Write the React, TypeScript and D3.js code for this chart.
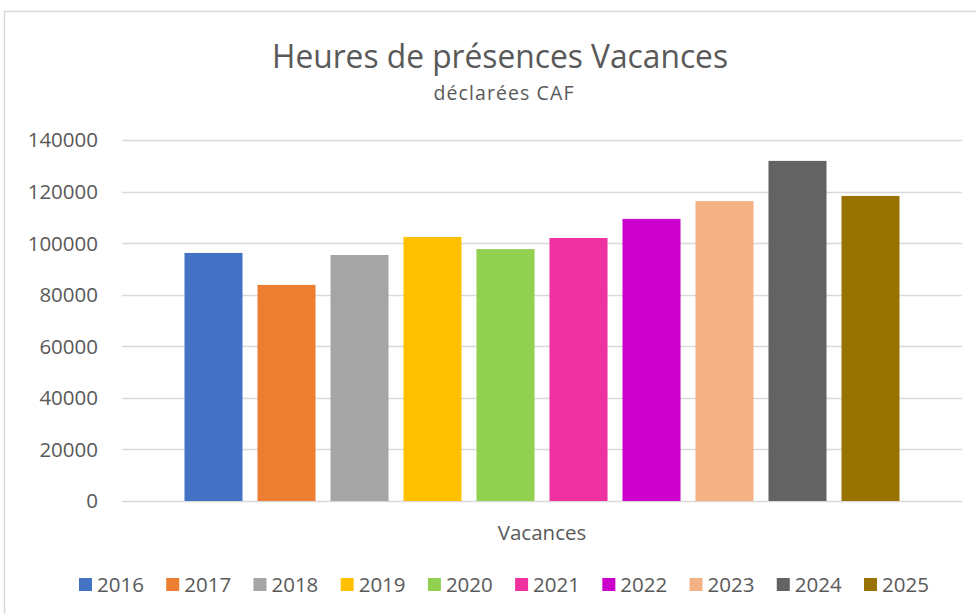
import { useEffect, useRef } from 'react'
import * as d3 from 'd3'

const W = 976, H = 614
const M = { left: 122, right: 14, top: 140, bottom: 113 }

const category = 'Vacances'
const years = ['2016', '2017', '2018', '2019', '2020', '2021', '2022', '2023', '2024', '2025']
const hours = [96200, 83800, 95400, 102400, 97700, 102000, 109400, 116300, 131900, 118300]
const colors = ['#4472c4', '#ed7d31', '#a5a5a5', '#ffc000', '#92d050', '#f032a0', '#cc00cc', '#f4b183', '#636363', '#997300']
const yTicks = [0, 20000, 40000, 60000, 80000, 100000, 120000, 140000]

const FONT = '"Open Sans", sans-serif'
const TXT = '#595959'

export default function App() {
  const svgRef = useRef<SVGSVGElement>(null)

  useEffect(() => {
    document.body.style.margin = '0'
    const svg = d3.select(svgRef.current)
    svg.selectAll('*').remove()

    const x0 = M.left, x1 = W - M.right
    const y = d3.scaleLinear([0, 140000], [H - M.bottom, M.top])
    // one category, bars clustered inside it
    const cat = d3.scaleBand([category], [x0, x1]).paddingOuter(0.0874)
    const xs = d3.scaleBand(years, [cat(category)!, cat(category)! + cat.bandwidth()]).paddingInner(0.205)

    svg.append('rect')
      .attr('x', 4.5).attr('y', 11.5).attr('width', W).attr('height', H)
      .attr('fill', 'white').attr('stroke', '#d9d9d9').attr('stroke-width', 1.5)

    // title is a narrow light face in the original, squeeze a bit
    svg.append('text').attr('x', 272).attr('y', 68)
      .attr('font-family', FONT).attr('font-size', 33)
      .attr('textLength', 456).attr('lengthAdjust', 'spacingAndGlyphs')
      .attr('fill', TXT).text('Heures de présences Vacances')
    svg.append('text').attr('x', 504).attr('y', 100)
      .attr('text-anchor', 'middle').attr('font-family', FONT).attr('font-size', 19.5)
      .attr('letter-spacing', 1.1)
      .attr('fill', TXT).text('déclarées CAF')

    // gridlines
    svg.append('g').selectAll('line').data(yTicks).join('line')
      .attr('x1', x0).attr('x2', x1)
      .attr('y1', d => Math.round(y(d)) + 0.5).attr('y2', d => Math.round(y(d)) + 0.5)
      .attr('stroke', '#d9d9d9').attr('stroke-width', 1.5)

    svg.append('g').selectAll('text').data(yTicks).join('text')
      .attr('x', 98).attr('y', d => y(d)).attr('dy', '0.36em')
      .attr('text-anchor', 'end').attr('font-family', FONT).attr('font-size', 20.5)
      .attr('fill', TXT).text(d => String(d))

    svg.append('g').selectAll('rect').data(years).join('rect')
      .attr('x', d => xs(d)!).attr('width', xs.bandwidth())
      .attr('y', (_, i) => y(hours[i])).attr('height', (_, i) => y(0) - y(hours[i]))
      .attr('fill', (_, i) => colors[i])

    svg.append('text').attr('x', (x0 + x1) / 2).attr('y', 540)
      .attr('text-anchor', 'middle').attr('font-family', FONT).attr('font-size', 20.5)
      .attr('fill', TXT).text(category)

    const lg = d3.scalePoint(years, [79, 864])
    const items = svg.append('g').selectAll('g').data(years).join('g')
      .attr('transform', d => `translate(${lg(d)},585)`)
    items.append('rect').attr('x', 0).attr('y', -7).attr('width', 13).attr('height', 13)
      .attr('fill', (_, i) => colors[i])
    items.append('text').attr('x', 18).attr('dy', '0.36em')
      .attr('font-family', FONT).attr('font-size', 20.5).attr('fill', TXT).text(d => d)
  }, [])

  return <svg ref={svgRef} width={W} height={H} viewBox={`0 0 ${W} ${H}`} style={{ display: 'block' }} />
}
